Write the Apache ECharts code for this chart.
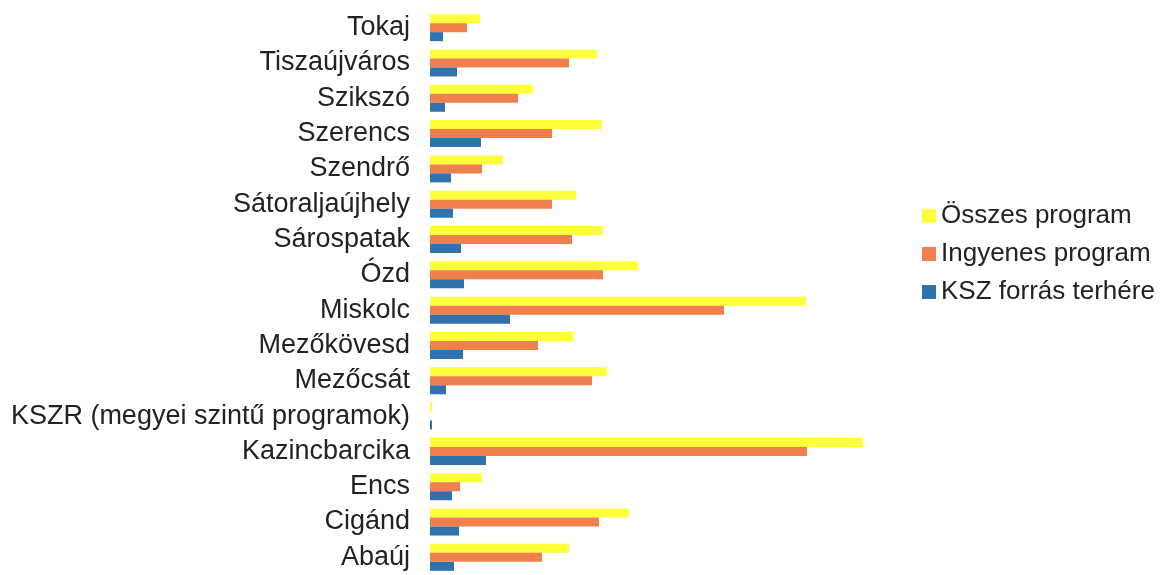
<!DOCTYPE html>
<html>
<head>
<meta charset="utf-8">
<script src="https://cdn.jsdelivr.net/npm/echarts@6/dist/echarts.min.js"></script>
<style>
    html, body { margin: 0; padding: 0; background: #fff; }
    #chart { width: 1170px; height: 575px; }
</style>
</head>
<body>
<div id="chart"></div>
<script>
// Categories, bottom to top (axis is not inverted)
const categories = ['Abaúj', 'Cigánd', 'Encs', 'Kazincbarcika', 'KSZR (megyei szintű programok)',
    'Mezőcsát', 'Mezőkövesd', 'Miskolc', 'Ózd', 'Sárospatak', 'Sátoraljaújhely',
    'Szendrő', 'Szerencs', 'Szikszó', 'Tiszaújváros', 'Tokaj'];

// Values (same order as categories)
const osszesProgram   = [139, 199, 52, 433, 2, 177, 143, 376, 208, 173, 146, 73, 172, 103, 167, 50];
const ingyenesProgram = [112, 169, 30, 377, 0, 162, 108, 294, 173, 142, 122, 52, 122, 88, 139, 37];
const kszForras       = [24, 29, 22, 56, 2, 16, 33, 80, 34, 31, 23, 21, 51, 15, 27, 13];

const seriesNames = ['Összes program', 'Ingyenes program', 'KSZ forrás terhére'];
const colors = ['#ffff3c', '#ef7f4d', '#2f72ad'];

function initChart() {
    const chart = echarts.init(document.getElementById('chart'));

    const bar = (name, data, color) => ({
        name: name,
        type: 'bar',
        data: data,
        barWidth: 9,
        barGap: '0%',
        itemStyle: { color: color },
        emphasis: { disabled: true }
    });

    const option = {
        animation: false,
        textStyle: { fontFamily: 'Liberation Sans, Arial, sans-serif' },
        legend: {
            data: seriesNames,
            orient: 'vertical',
            left: 917,
            top: 198,
            itemWidth: 14,
            itemHeight: 14,
            itemGap: 12,
            icon: 'rect',
            textStyle: { fontSize: 26, lineHeight: 26, color: '#222' }
        },
        grid: {
            left: 430,
            top: 10,
            width: 440,
            height: 571
        },
        xAxis: {
            type: 'value',
            min: 0,
            max: 440,
            show: false
        },
        yAxis: {
            type: 'category',
            data: categories,
            axisLine: { show: false },
            axisTick: { show: false },
            axisLabel: {
                fontSize: 27,
                color: '#222',
                margin: 20
            }
        },
        // yellow first so it sits at the top of each group
        series: [
            bar(seriesNames[0], osszesProgram, colors[0]),
            bar(seriesNames[1], ingyenesProgram, colors[1]),
            bar(seriesNames[2], kszForras, colors[2])
        ]
    };

    chart.setOption(option);
}

document.addEventListener('DOMContentLoaded', initChart);
</script>
</body>
</html>
